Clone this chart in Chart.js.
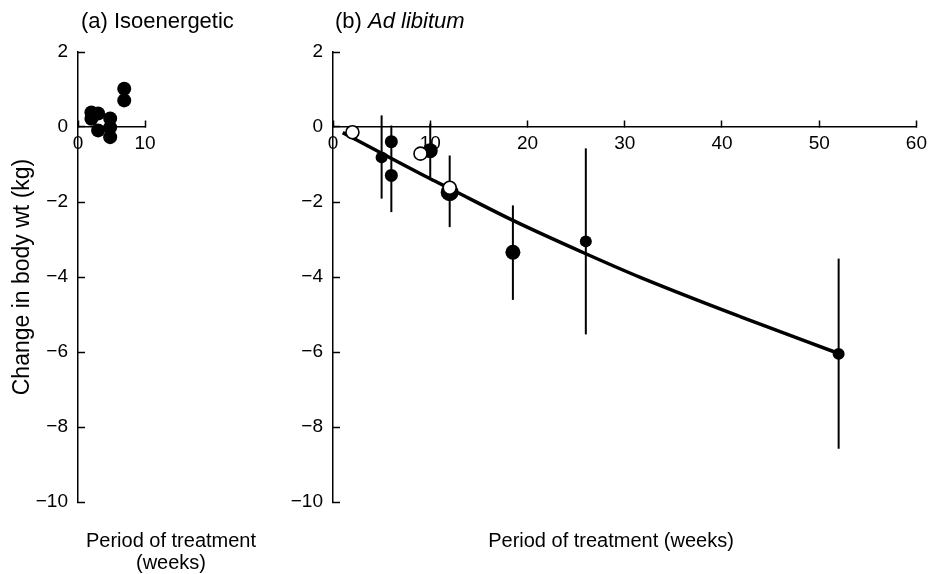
<!DOCTYPE html>
<html><head><meta charset="utf-8">
<script src="https://cdn.jsdelivr.net/npm/chart.js@4"></script>
<style>
html,body{margin:0;padding:0;background:#fff;}
#wrap{position:relative;width:931px;height:574px;overflow:hidden;background:#fff;}
.box{position:absolute;top:0;height:574px;}
canvas{display:block;}
</style></head><body>
<div id="wrap">
  <div class="box" style="left:0;width:300px"><canvas id="ca" width="300" height="574"></canvas></div>
  <div class="box" style="left:285px;width:654px"><canvas id="cb" width="654" height="574"></canvas></div>
</div>
<script>
// ---------------- data ----------------
// (a) Isoenergetic
const isoWeeks  = [2.0, 2.0, 3.0, 3.0, 4.8, 4.8, 4.8, 6.9, 6.9];
const isoChange = [0.39, 0.22, 0.36, -0.09, 0.23, -0.01, -0.27, 1.02, 0.71];

// (b) Ad libitum
const adlibFilledWeeks  = [5, 6, 6, 10, 12, 18.5, 26, 52];
const adlibFilledChange = [-0.81, -0.39, -1.29, -0.63, -1.74, -3.34, -3.05, -6.05];
const adlibOpenWeeks  = [2, 9, 12];
const adlibOpenChange = [-0.14, -0.71, -1.62];

// error bars (low / high)
const errWeeks = [5, 6, 10, 12, 18.5, 26, 52];
const errLow   = [-1.91, -2.27, -1.34, -2.67, -4.61, -5.53, -8.58];
const errHigh  = [0.31, 0.04, 0.09, -0.76, -2.09, -0.57, -3.51];

// fitted curve
const fitWeeks  = [1, 5, 10, 12, 18.5, 26, 31.6, 42, 52];
const fitChange = [-0.15, -0.70, -1.38, -1.64, -2.49, -3.38, -4.01, -5.07, -6.04];

// tick labels
const yTicks  = [2, 0, -2, -4, -6, -8, -10];
const xTicksA = [0, 10];
const xTicksB = [0, 10, 20, 30, 40, 50, 60];

// ---------------- helpers ----------------
const FONT = "'Liberation Sans', Arial, Helvetica, sans-serif";
const fmt = v => (v < 0 ? '\u2212' + Math.abs(v) : String(v));
const pts = (xs, ys) => xs.map((x, i) => ({x, y: ys[i]}));

function yScale(width, title) {
  return {
    type: 'linear', min: -10, max: 2, position: 'left',
    afterBuildTicks: s => { s.ticks = yTicks.map(v => ({value: v})); },
    afterFit: s => { s.width = width; },
    border: {display: true, color: '#000', width: 1.5},
    grid: {display: true, drawOnChartArea: false, drawTicks: true, tickLength: -7, tickWidth: 1.5, tickColor: '#000'},
    ticks: {color: '#000', font: {family: FONT, size: 19}, padding: 17, callback: v => fmt(v)},
    title: title ? {display: true, text: title, color: '#000', font: {family: FONT, size: 23}, padding: {top: 9, bottom: 0}} : {display: false}
  };
}
function xScale(max, tickArr) {
  return {
    type: 'linear', min: 0, max: max, position: {y: 0},
    afterBuildTicks: s => { s.ticks = tickArr.map(v => ({value: v})); },
    border: {display: true, color: '#000', width: 1.5},
    grid: {display: true, drawOnChartArea: false, drawTicks: true, tickLength: -7, tickWidth: 1.5, tickColor: '#000'},
    ticks: {color: '#000', font: {family: FONT, size: 19}, padding: 12, maxRotation: 0, autoSkip: false, callback: v => fmt(v)}
  };
}

// panel labels / axis captions drawn as canvas text
const textPlugin = {
  id: 'panelText',
  afterDraw(chart, args, opts) {
    const ctx = chart.ctx;
    ctx.save();
    ctx.fillStyle = '#000';
    ctx.textBaseline = 'alphabetic';
    for (const item of opts.items || []) {
      ctx.textAlign = item.align || 'left';
      let x = item.x;
      for (const part of item.parts) {
        ctx.font = part.font;
        ctx.fillText(part.text, x, item.y);
        x += ctx.measureText(part.text).width;
      }
    }
    ctx.restore();
  }
};

const baseOpts = {
  responsive: false, animation: false, events: [],
  plugins: {legend: {display: false}, tooltip: {enabled: false}}
};

// ---------------- (a) Isoenergetic ----------------
new Chart(document.getElementById('ca'), {
  type: 'scatter',
  data: {
    datasets: [{
      data: pts(isoWeeks, isoChange),
      backgroundColor: '#000', borderColor: '#000', borderWidth: 0,
      pointRadius: 7, clip: false
    }]
  },
  options: Object.assign({}, baseOpts, {
    layout: {padding: {left: 0, right: 155, top: 52, bottom: 72}},
    scales: {x: xScale(10, xTicksA), y: yScale(78, 'Change in body wt (kg)')},
    plugins: Object.assign({}, baseOpts.plugins, {
      panelText: {items: [
        {x: 81, y: 28, parts: [{text: '(a) Isoenergetic', font: `22px ${FONT}`}]},
        {x: 171, y: 547, align: 'center', parts: [{text: 'Period of treatment', font: `20px ${FONT}`}]},
        {x: 171, y: 569, align: 'center', parts: [{text: '(weeks)', font: `20px ${FONT}`}]}
      ]}
    })
  }),
  plugins: [textPlugin]
});

// ---------------- (b) Ad libitum ----------------
const errDatasets = errWeeks.map((w, i) => ({
  type: 'line', showLine: true,
  data: [{x: w, y: errLow[i]}, {x: w, y: errHigh[i]}],
  borderColor: '#000', borderWidth: 2, pointRadius: 0, order: 4, clip: false
}));

new Chart(document.getElementById('cb'), {
  type: 'scatter',
  data: {
    datasets: [
      ...errDatasets,
      {
        type: 'line', showLine: true, data: pts(fitWeeks, fitChange),
        borderColor: '#000', borderWidth: 3.5, pointRadius: 0,
        cubicInterpolationMode: 'monotone', order: 3, clip: false
      },
      {
        data: pts(adlibFilledWeeks, adlibFilledChange),
        backgroundColor: '#000', borderColor: '#000', borderWidth: 0,
        pointRadius: [6, 6.5, 6.5, 7.5, 9, 7.5, 6, 6], order: 2, clip: false
      },
      {
        data: pts(adlibOpenWeeks, adlibOpenChange),
        backgroundColor: '#fff', borderColor: '#000', borderWidth: 1.6,
        pointRadius: 6.5, order: 1, clip: false
      }
    ]
  },
  options: Object.assign({}, baseOpts, {
    layout: {padding: {left: 0, right: 0, top: 52, bottom: 72}},
    scales: {x: xScale(60, xTicksB), y: yScale(48, null)},
    plugins: Object.assign({}, baseOpts.plugins, {
      panelText: {items: [
        {x: 50, y: 28, parts: [{text: '(b) ', font: `22px ${FONT}`}, {text: 'Ad libitum', font: `italic 22px ${FONT}`}]},
        {x: 326, y: 547, align: 'center', parts: [{text: 'Period of treatment (weeks)', font: `20px ${FONT}`}]}
      ]}
    })
  }),
  plugins: [textPlugin]
});
</script>
</body></html>
